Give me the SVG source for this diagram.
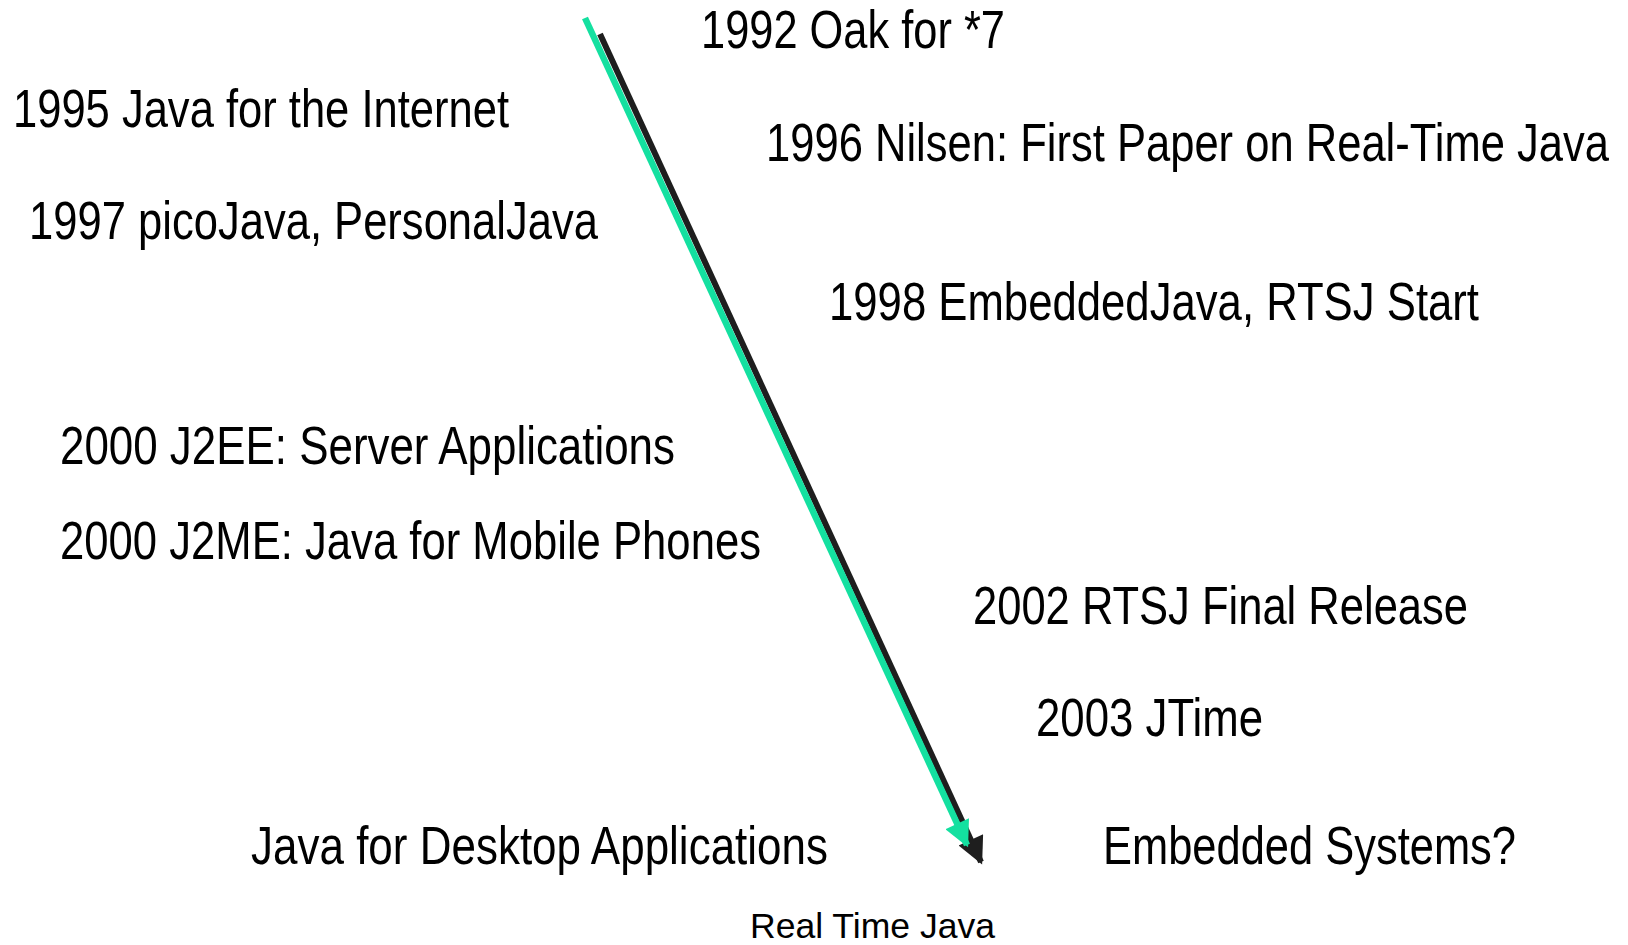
<svg xmlns="http://www.w3.org/2000/svg" width="1628" height="945" viewBox="0 0 1628 945">
<style>
.t{font-family:"Liberation Sans",Arial,sans-serif;font-size:44px;fill:#000}
.s{font-family:"Liberation Sans",Arial,sans-serif;font-size:35px;fill:#000}
</style>
<defs>
<marker id="hg" viewBox="0 0 10 10" refX="9" refY="5" markerWidth="4.5" markerHeight="4" orient="auto" markerUnits="strokeWidth">
<path d="M0,0 L10,5 L0,10 z" fill="#14e0a0"/>
</marker>
<marker id="hb" viewBox="0 0 10 10" refX="9" refY="5" markerWidth="5" markerHeight="4.5" orient="auto" markerUnits="strokeWidth">
<path d="M0,0 L10,5 L0,10 z" fill="#1e1e1e"/>
</marker>
</defs>
<rect width="1628" height="945" fill="#fff"/>
<g id="connectors">
<line x1="600" y1="34" x2="981" y2="862" stroke="#1e1e1e" stroke-width="6" marker-end="url(#hb)"/>
<line x1="585" y1="18" x2="967" y2="845" stroke="#14e0a0" stroke-width="6.5" marker-end="url(#hg)"/>
</g>
<g id="n1992" transform="translate(701,48) scale(1,1.23)"><text class="t" x="0" y="0" textLength="304" lengthAdjust="spacingAndGlyphs">1992 Oak for *7</text></g>
<g id="n1995" transform="translate(13,127) scale(1,1.23)"><text class="t" x="0" y="0" textLength="496" lengthAdjust="spacingAndGlyphs">1995 Java for the Internet</text></g>
<g id="n1996" transform="translate(766,161) scale(1,1.23)"><text class="t" x="0" y="0" textLength="843" lengthAdjust="spacingAndGlyphs">1996 Nilsen: First Paper on Real-Time Java</text></g>
<g id="n1997" transform="translate(29,239) scale(1,1.23)"><text class="t" x="0" y="0" textLength="569" lengthAdjust="spacingAndGlyphs">1997 picoJava, PersonalJava</text></g>
<g id="n1998" transform="translate(829,320) scale(1,1.23)"><text class="t" x="0" y="0" textLength="650" lengthAdjust="spacingAndGlyphs">1998 EmbeddedJava, RTSJ Start</text></g>
<g id="n2000a" transform="translate(60,464) scale(1,1.23)"><text class="t" x="0" y="0" textLength="615" lengthAdjust="spacingAndGlyphs">2000 J2EE: Server Applications</text></g>
<g id="n2000b" transform="translate(60,559) scale(1,1.23)"><text class="t" x="0" y="0" textLength="701" lengthAdjust="spacingAndGlyphs">2000 J2ME: Java for Mobile Phones</text></g>
<g id="n2002" transform="translate(973,624) scale(1,1.23)"><text class="t" x="0" y="0" textLength="495" lengthAdjust="spacingAndGlyphs">2002 RTSJ Final Release</text></g>
<g id="n2003" transform="translate(1036,736) scale(1,1.23)"><text class="t" x="0" y="0" textLength="227" lengthAdjust="spacingAndGlyphs">2003 JTime</text></g>
<g id="desktop" transform="translate(251,864) scale(1,1.23)"><text class="t" x="0" y="0" textLength="577" lengthAdjust="spacingAndGlyphs">Java for Desktop Applications</text></g>
<g id="embedded" transform="translate(1103,864) scale(1,1.23)"><text class="t" x="0" y="0" textLength="413" lengthAdjust="spacingAndGlyphs">Embedded Systems?</text></g>
<g id="rtj"><text class="s" x="750" y="938" textLength="245" lengthAdjust="spacingAndGlyphs">Real Time Java</text></g>
</svg>
